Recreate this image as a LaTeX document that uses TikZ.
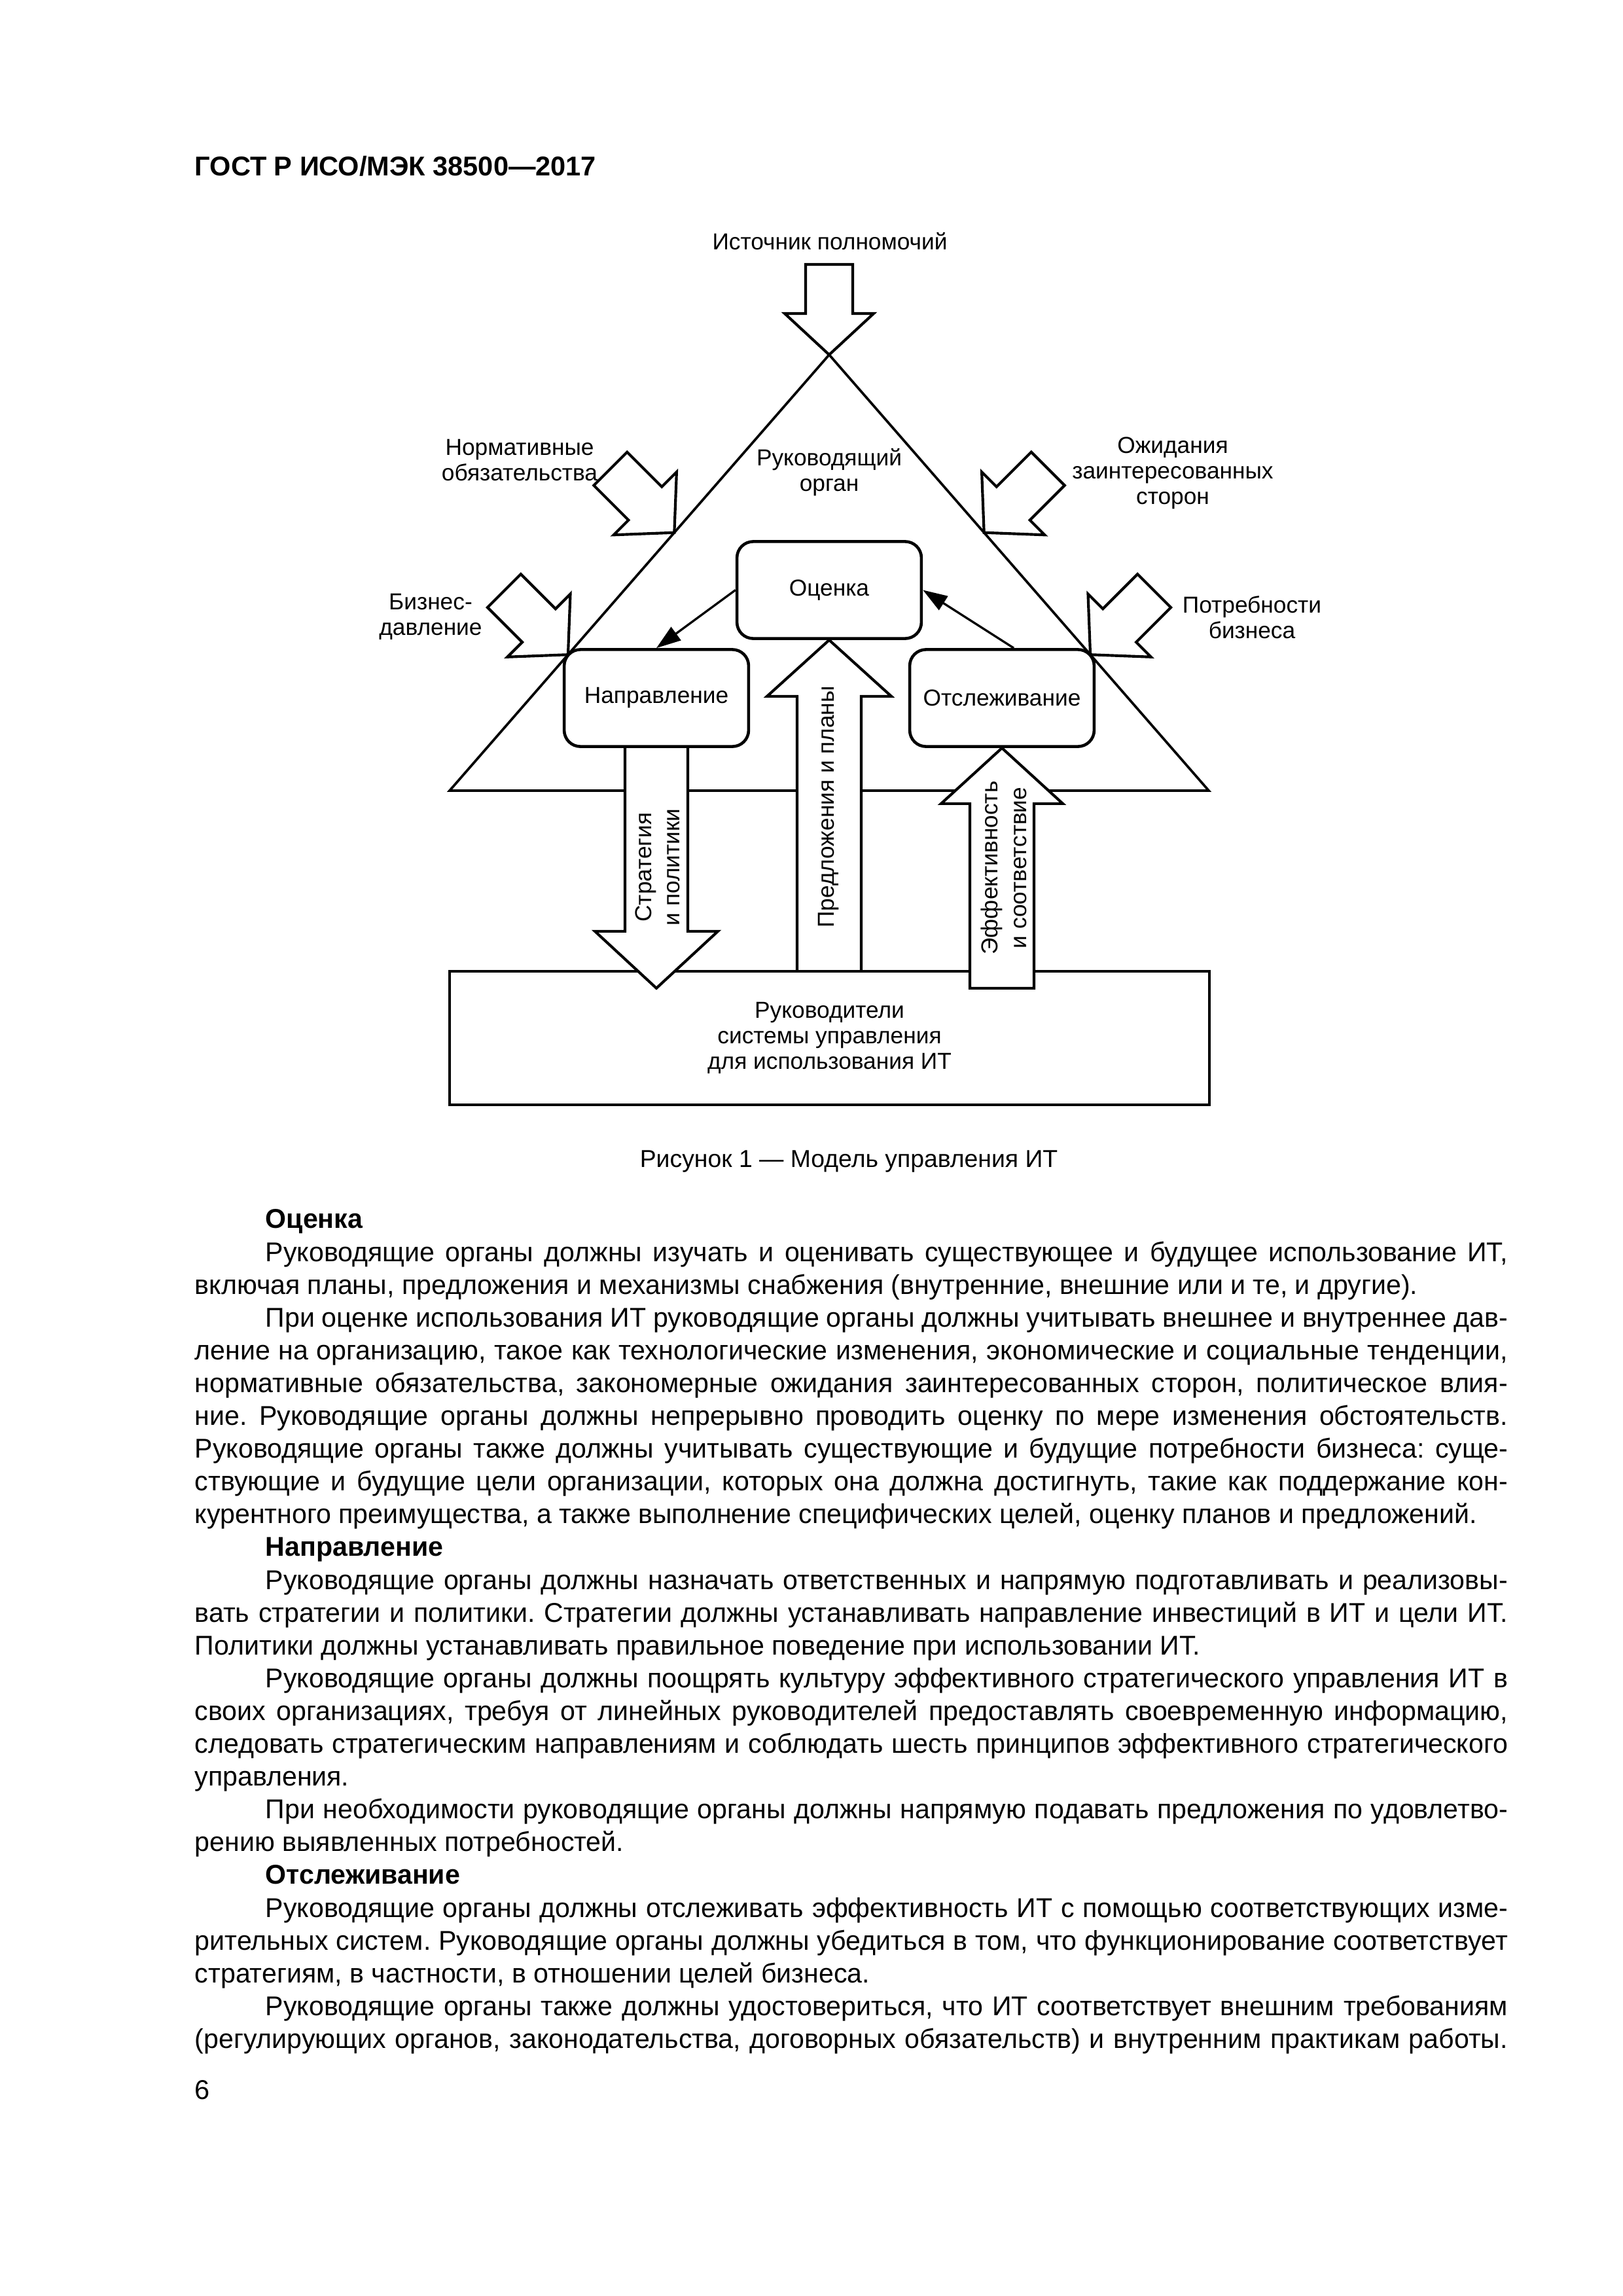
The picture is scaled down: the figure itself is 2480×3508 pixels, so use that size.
\documentclass[tikz,border=0pt]{standalone}
\usepackage{fontspec}
\setmainfont{Liberation Sans}
\newfontfamily\bodyfont[FakeStretch=0.99]{Liberation Sans}
\usetikzlibrary{arrows.meta,calc,backgrounds}
\newcommand\txtsetup{\frenchspacing\spaceskip=2.75pt plus 3pt minus 1.6pt\relax}
\newcommand\txthead[1]{\hspace*{26pt}\strut\textbf{#1}\par}
\newcommand\txtind[1]{\hspace*{26pt}\makebox[\dimexpr\linewidth-26pt\relax][s]{#1}\par}
\newcommand\txtjust[1]{\makebox[\linewidth][s]{#1}\par}
\newcommand\txtlast[1]{\mbox{#1}\par}

\begin{document}
\begin{tikzpicture}[x=0.2409pt,y=-0.2409pt,
  lbl/.style={font=\fontsize{8.5}{9.4}\selectfont,align=center,inner sep=0pt},
  vlbl/.style={font=\fontsize{8.5}{10.5}\selectfont,align=center,inner sep=0pt,rotate=90},
  stage/.style={draw,line width=1.1pt,fill=white,rounded corners=6pt,
                minimum width=67.9pt,minimum height=35.7pt,inner sep=0pt,
                font=\fontsize{8.5}{9.4}\selectfont},
  tri/.style={draw,line width=0.9pt,line join=miter},
  blkarr/.style={draw,line width=1pt,fill=white,line join=miter},
  link/.style={-{Triangle[length=9pt,width=6pt]},line width=0.8pt},
  body/.style={anchor=north west,inner sep=0pt,text width=483.3pt,
               font=\bodyfont\fontsize{10}{12.07}\selectfont},
  press/.pic={\draw[blkarr] (-36,-138) -- (36,-138) -- (36,-63) -- (68,-63)
              -- (0,0) -- (-68,-63) -- (-36,-63) -- cycle;},
]
\node[anchor=base west,inner sep=0pt,font=\bfseries\fontsize{10}{12}\selectfont] (hdr) at (297,268) {ГОСТ Р ИСО/МЭК 38500—2017};

\coordinate (apex) at (1267,542);
\coordinate (bl) at (687,1208);
\coordinate (br) at (1847,1208);

\node[stage] (eval) at (1267,901.5) {Оценка};
\node[stage] (dir) at (1003,1066.5) {Направление};
\node[stage] (trk) at (1531,1066.5) {Отслеживание};

\begin{scope}[on background layer]
\fill[white] (0,0) rectangle (2480,3508);
\draw[tri] (apex) -- (bl) -- (br) -- cycle;
\coordinate (ptail) at (eval.south |- 0,1484);
\draw[blkarr] ($(ptail)+(-49,0)$) -- ($(eval.south)+(-49,86)$) -- ($(eval.south)+(-95,86)$) -- (eval.south)
  -- ($(eval.south)+(95,86)$) -- ($(eval.south)+(49,86)$) -- ($(ptail)+(49,0)$);
\node[lbl,draw,line width=1.1pt,fill=white,minimum width=279.7pt,minimum height=49.1pt] (mgr) at (1267.5,1586)
  {Руководители\\системы управления\\для использования ИТ};
\coordinate (stip) at ($(mgr.north -| dir.south)+(0,28)$);
\draw[blkarr] ($(dir.south)+(-48,0)$) -- ($(stip)+(-48,-87)$) -- ($(stip)+(-94,-87)$) -- (stip)
  -- ($(stip)+(94,-87)$) -- ($(stip)+(48,-87)$) -- ($(dir.south)+(48,0)$);
\coordinate (etail) at ($(mgr.north -| trk.south)+(0,28)$);
\draw[blkarr] ($(etail)+(-49,0)$) -- ($(trk.south)+(-49,85)$) -- ($(trk.south)+(-93,85)$) -- (trk.south)
  -- ($(trk.south)+(93,85)$) -- ($(trk.south)+(49,85)$) -- ($(etail)+(49,0)$) -- cycle;
\end{scope}

\pic at (apex) {press};
\foreach \f/\r/\c in {0.408/45/bl,0.688/45/bl,0.408/-45/br,0.688/-45/br}
  \pic[rotate=\r] at ($(apex)!\f!(\c)$) {press};

\node[lbl] (src) at (1268,369) {Источник полномочий};
\node[lbl] (gov) at (1267,722) {Руководящий\\орган};
\node[lbl] (reg) at (794,703) {Нормативные\\обязательства};
\node[lbl] (stk) at (1792,723) {Ожидания\\заинтересованных\\сторон};
\node[lbl] (bpr) at (658,942) {Бизнес-\\давление};
\node[lbl] (bnd) at (1913,943) {Потребности\\бизнеса};

\node[vlbl] (stratlbl) at (1005,1325) {Стратегия\\и политики};
\node[vlbl] (proplbl) at (1266,1233) {Предложения и планы};
\node[vlbl] (efflbl) at (1534,1326) {Эффективность\\и соответствие};

\draw[link] (eval.west) -- (dir.north);
\draw[link] ($(trk.north)+(18,0)$) -- (eval.east);

\node[inner sep=0pt,font=\fontsize{9}{11}\selectfont] (cap) at (1297,1775) {Рисунок 1 — Модель управления ИТ};

\node[body] (txt) at (297,1841) {\txtsetup
\txthead{Оценка}
\txtind{Руководящие органы должны изучать и оценивать существующее и будущее использование ИТ,}
\txtlast{включая планы, предложения и механизмы снабжения (внутренние, внешние или и те, и другие).}
\txtind{При оценке использования ИТ руководящие органы должны учитывать внешнее и внутреннее дав-}
\txtjust{ление на организацию, такое как технологические изменения, экономические и социальные тенденции,}
\txtjust{нормативные обязательства, закономерные ожидания заинтересованных сторон, политическое влия-}
\txtjust{ние. Руководящие органы должны непрерывно проводить оценку по мере изменения обстоятельств.}
\txtjust{Руководящие органы также должны учитывать существующие и будущие потребности бизнеса: суще-}
\txtjust{ствующие и будущие цели организации, которых она должна достигнуть, такие как поддержание кон-}
\txtlast{курентного преимущества, а также выполнение специфических целей, оценку планов и предложений.}
\txthead{Направление}
\txtind{Руководящие органы должны назначать ответственных и напрямую подготавливать и реализовы-}
\txtjust{вать стратегии и политики. Стратегии должны устанавливать направление инвестиций в ИТ и цели ИТ.}
\txtlast{Политики должны устанавливать правильное поведение при использовании ИТ.}
\txtind{Руководящие органы должны поощрять культуру эффективного стратегического управления ИТ в}
\txtjust{своих организациях, требуя от линейных руководителей предоставлять своевременную информацию,}
\txtjust{следовать стратегическим направлениям и соблюдать шесть принципов эффективного стратегического}
\txtlast{управления.}
\txtind{При необходимости руководящие органы должны напрямую подавать предложения по удовлетво-}
\txtlast{рению выявленных потребностей.}
\txthead{Отслеживание}
\txtind{Руководящие органы должны отслеживать эффективность ИТ с помощью соответствующих изме-}
\txtjust{рительных систем. Руководящие органы должны убедиться в том, что функционирование соответствует}
\txtlast{стратегиям, в частности, в отношении целей бизнеса.}
\txtind{Руководящие органы также должны удостовериться, что ИТ соответствует внешним требованиям}
\txtjust{(регулирующих органов, законодательства, договорных обязательств) и внутренним практикам работы.}
};

\node[anchor=base west,inner sep=0pt,font=\fontsize{10}{12}\selectfont] (pg) at (297,3207) {6};
\end{tikzpicture}
\end{document}
